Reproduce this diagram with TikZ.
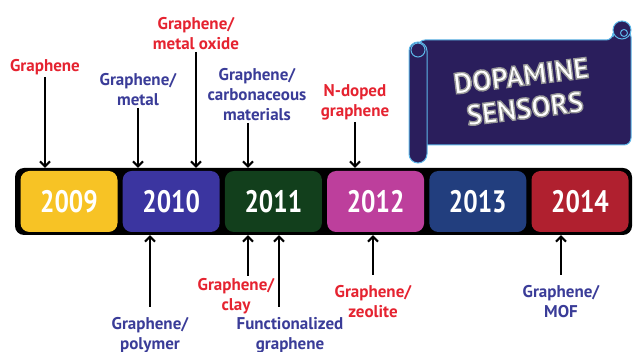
\documentclass[tikz,border=0pt]{standalone}
\usepackage{graphicx}
\usepackage{fontspec}
\setmainfont{PT Sans}
\usetikzlibrary{positioning,calc,arrows.meta}

\definecolor{c09}{HTML}{F7C325}
\definecolor{c10}{HTML}{3B35A0}
\definecolor{c11}{HTML}{123F1C}
\definecolor{c12}{HTML}{BD3F9C}
\definecolor{c13}{HTML}{223E7E}
\definecolor{c14}{HTML}{B0202F}
\definecolor{lblred}{HTML}{E52330}
\definecolor{lblblue}{HTML}{3A3C98}
\definecolor{scrollfill}{HTML}{2A1E5C}
\definecolor{scrolledge}{HTML}{5DB7E8}

\newcommand{\yeartext}[1]{\scalebox{0.82}[1]{#1}}
% white letters with a grey rim
\newcommand{\rimtext}[1]{\special{pdf:literal direct 2 Tr 1.4 w 0.6 G}#1\special{pdf:literal direct 0 Tr}}

\tikzset{
  lbl/.style={font=\bfseries\fontsize{17}{20}\selectfont, align=center, inner sep=0pt, outer sep=2pt},
  redlbl/.style={lbl, text=lblred},
  bluelbl/.style={lbl, text=lblblue},
  arr/.style={-{Straight Barb[length=5pt,width=10pt]}, line width=2pt},
  yearbox/.style={rounded corners=9pt, minimum width=97pt, minimum height=61pt, inner sep=0pt,
    text=white, font=\bfseries\fontsize{31}{31}\selectfont},
  scroll/.style={fill=scrollfill, draw=scrolledge, line width=1pt},
  banner/.style={font=\bfseries\fontsize{29}{33}\selectfont, align=center, rotate=7, text=white}
}

\begin{document}
\begin{tikzpicture}[x=1pt,y=-1pt]
    \useasboundingbox (0,0) rectangle (633,352);

    % Scroll
    \filldraw[scroll, rounded corners=7pt] (418,40) -- (613,40) -- (613,30) -- (631,30) -- (631,145) -- (418,145) -- cycle;
    \filldraw[scroll] (622,30) circle (9pt);
    \draw[scrolledge, line width=1pt] (624,33) circle (3.5pt);
    \filldraw[scroll, rounded corners=9pt] (409,42) rectangle (427,163);
    \filldraw[scroll] (418,50) circle (7pt);
    \node[banner] (title) at (523,92) {\rimtext{DOPAMINE\\SENSORS}};

    % Timeline
    \node [fill=black, rounded corners=9pt, minimum width=617pt, minimum height=67pt, inner sep=0pt] (bar) at (323.5,201.5) {};
    \foreach \yr/\col [count=\i from 0] in {2009/c09,2010/c10,2011/c11,2012/c12,2013/c13,2014/c14} {
        \node [yearbox, fill=\col] (y\yr) at (69+\i*102.2,201.5) {\yeartext{\yr}};
    }

    % Above the timeline
    \node [redlbl, anchor=south] (gr) at (45,77) {Graphene};
    \node [bluelbl, anchor=south] (grmetal) at (138,108) {Graphene/\\metal};
    \node [redlbl, anchor=south] (grmox) at (196,52) {Graphene/\\metal oxide};
    \node [bluelbl, anchor=south] (grcarb) at (257,123) {Graphene/\\carbonaceous\\materials};
    \node [redlbl, anchor=south] (ndoped) at (355,122) {N-doped\\graphene};
    \foreach \l in {gr,grmetal,grmox,ndoped} {
        \draw [arr] (\l.south) -- (\l.south |- bar.north);
    }
    \draw [arr] ([xshift=-9pt]grcarb.south) -- ([xshift=-9pt]grcarb.south |- bar.north);

    % Below the timeline
    \node [bluelbl, anchor=north] (grpoly) at (150,315) {Graphene/\\polymer};
    \node [redlbl, anchor=north] (grclay) at (236,276) {Graphene/\\clay};
    \node [bluelbl, anchor=north] (funcgr) at (290,315) {Functionalized\\graphene};
    \node [redlbl, anchor=north] (grzeo) at (373,283) {Graphene/\\zeolite};
    \node [bluelbl, anchor=north] (grmof) at (561,283) {Graphene/\\MOF};
    \foreach \l in {grpoly,grzeo,grmof} {
        \draw [arr] ([yshift=8pt]\l.north) -- (\l.north |- bar.south);
    }
    \draw [arr] ([xshift=12pt]grclay.north) -- ([xshift=12pt]grclay.north |- bar.south);
    \draw [arr] ([xshift=-11pt,yshift=8pt]funcgr.north) -- ([xshift=-11pt]funcgr.north |- bar.south);
\end{tikzpicture}
\end{document}
